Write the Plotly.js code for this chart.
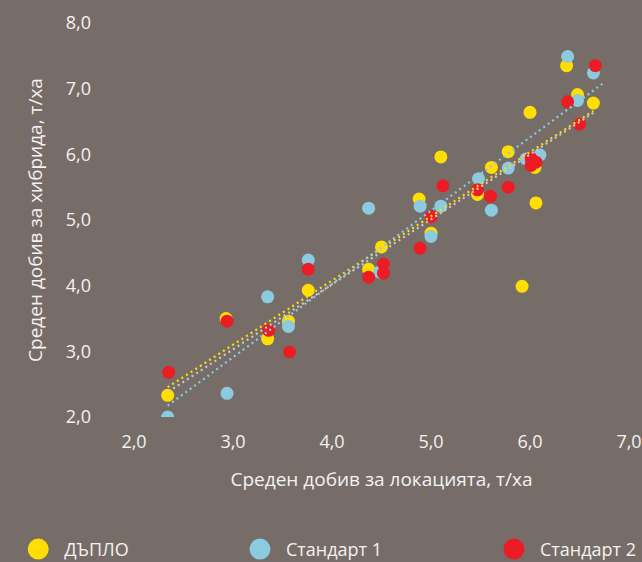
<!DOCTYPE html>
<html>
<head>
<meta charset="utf-8">
<script src="https://cdn.plot.ly/plotly-3.0.1.min.js"></script>
<style>html,body{margin:0;padding:0;background:#766d69;}#chart{width:642px;height:562px;}</style>
</head>
<body>
<div id="chart"></div>
<script>
// Series names
const seriesNames = ["ДЪПЛО", "Стандарт 1", "Стандарт 2"];

// ДЪПЛО: location mean (x) vs hybrid mean yield (y), t/ha
const dupX = [2.34, 2.93, 3.35, 3.56, 3.76, 4.37, 4.50, 4.88, 5.00, 5.10, 5.47, 5.61, 5.78, 5.92, 6.00, 6.06, 6.05, 6.37, 6.48, 6.64];
const dupY = [2.33, 3.50, 3.19, 3.46, 3.93, 4.25, 4.59, 5.32, 4.80, 5.96, 5.39, 5.80, 6.04, 3.99, 6.64, 5.26, 5.80, 7.35, 6.91, 6.78];

// Стандарт 1
const st1X = [2.34, 2.94, 3.35, 3.56, 3.76, 4.37, 4.48, 4.89, 5.00, 5.10, 5.48, 5.61, 5.78, 5.96, 6.10, 6.38, 6.48, 6.64];
const st1Y = [2.00, 2.36, 3.83, 3.38, 4.39, 5.18, 4.21, 5.21, 4.75, 5.21, 5.63, 5.15, 5.79, 5.93, 5.99, 7.49, 6.82, 7.24];

// Стандарт 2
const st2X = [2.35, 2.94, 3.36, 3.57, 3.76, 4.37, 4.52, 4.52, 4.89, 5.00, 5.12, 5.47, 5.60, 5.78, 6.01, 6.06, 6.01, 6.38, 6.50, 6.66];
const st2Y = [2.68, 3.46, 3.32, 2.99, 4.25, 4.13, 4.33, 4.19, 4.57, 5.05, 5.52, 5.46, 5.36, 5.50, 5.94, 5.88, 5.83, 6.80, 6.46, 7.35];

// Linear trendline forecast (forward), per series, in x units
const trendForward = [0, 0.1, 0];

// Axis ticks
const xTickVals = [2, 3, 4, 5, 6, 7];
const yTickVals = [2, 3, 4, 5, 6, 7, 8];
const tickText = v => v.toFixed(1).replace('.', ',');

const markerColors = ["#ffde00", "#8ccbdf", "#ec1c24"];
const trendColors = ["#ffde00", "#8ccbdf", "#cfc7c3"];

function fit(xs, ys) {
  const n = xs.length;
  const mx = xs.reduce((a, b) => a + b, 0) / n;
  const my = ys.reduce((a, b) => a + b, 0) / n;
  let sxy = 0, sxx = 0;
  for (let i = 0; i < n; i++) { sxy += (xs[i] - mx) * (ys[i] - my); sxx += (xs[i] - mx) * (xs[i] - mx); }
  const b = sxy / sxx;
  return { a: my - b * mx, b: b };
}

const sets = [[dupX, dupY], [st1X, st1Y], [st2X, st2Y]];
const font = "Open Sans, Noto Sans, sans-serif";
const traces = [];

sets.forEach((s, i) => {
  traces.push({
    type: "scatter", mode: "markers", x: s[0], y: s[1], name: seriesNames[i],
    showlegend: false, hoverinfo: "x+y",
    marker: { color: markerColors[i], size: 13, line: { width: 0 } }
  });
});

sets.forEach((s, i) => {
  const f = fit(s[0], s[1]);
  const x0 = Math.min(...s[0]), x1 = Math.max(...s[0]) + trendForward[i];
  traces.push({
    type: "scatter", mode: "lines", x: [x0, x1], y: [f.a + f.b * x0, f.a + f.b * x1],
    showlegend: false, hoverinfo: "skip",
    line: { color: trendColors[i], width: 2.2, dash: "2px,3.5px" }
  });
});

// Legend entries (one legend per series so each sits at its own place)
const legendKeys = ["legend", "legend2", "legend3"];
seriesNames.forEach((nm, i) => {
  traces.push({
    type: "scatter", mode: "markers", x: [null], y: [null], name: nm,
    legend: legendKeys[i], showlegend: true, hoverinfo: "skip",
    marker: { color: markerColors[i], size: 16, line: { color: markerColors[i], width: 5 } }
  });
});

const legendBase = (x) => ({
  x: x, xref: "paper", xanchor: "left", y: -0.336, yref: "paper", yanchor: "middle",
  orientation: "h", bgcolor: "rgba(0,0,0,0)", borderwidth: 0, itemwidth: 42,
  font: { family: font, size: 18, color: "#f4f2f0" }
});

const tickFont = { family: font, size: 18, color: "#f4f2f0" };
const titleFont = { family: font, size: 19, color: "#f4f2f0" };

const layout = {
  width: 642, height: 562,
  paper_bgcolor: "#766d69", plot_bgcolor: "#766d69",
  margin: { l: 134, r: 13, t: 23, b: 145, autoexpand: false },
  font: { family: font, color: "#f4f2f0" },
  xaxis: {
    range: [2, 7], tickvals: xTickVals, ticktext: xTickVals.map(tickText),
    showgrid: false, zeroline: false, showline: false, ticks: "",
    tickfont: tickFont, ticklabelstandoff: 12, automargin: false,
    title: { text: "Среден добив за локацията, т/ха", font: titleFont, standoff: 20 }
  },
  yaxis: {
    range: [2, 8], tickvals: yTickVals, ticktext: yTickVals.map(tickText),
    showgrid: false, zeroline: false, showline: false, ticks: "",
    tickfont: tickFont, ticklabelstandoff: 42, automargin: false,
    title: { text: "Среден добив за хибрида, т/ха", font: titleFont, standoff: 18 }
  },
  legend: legendBase(-0.246),
  legend2: legendBase(0.202),
  legend3: legendBase(0.715),
  showlegend: true
};

Plotly.newPlot("chart", traces, layout, { displayModeBar: false, staticPlot: true });
</script>
</body>
</html>
